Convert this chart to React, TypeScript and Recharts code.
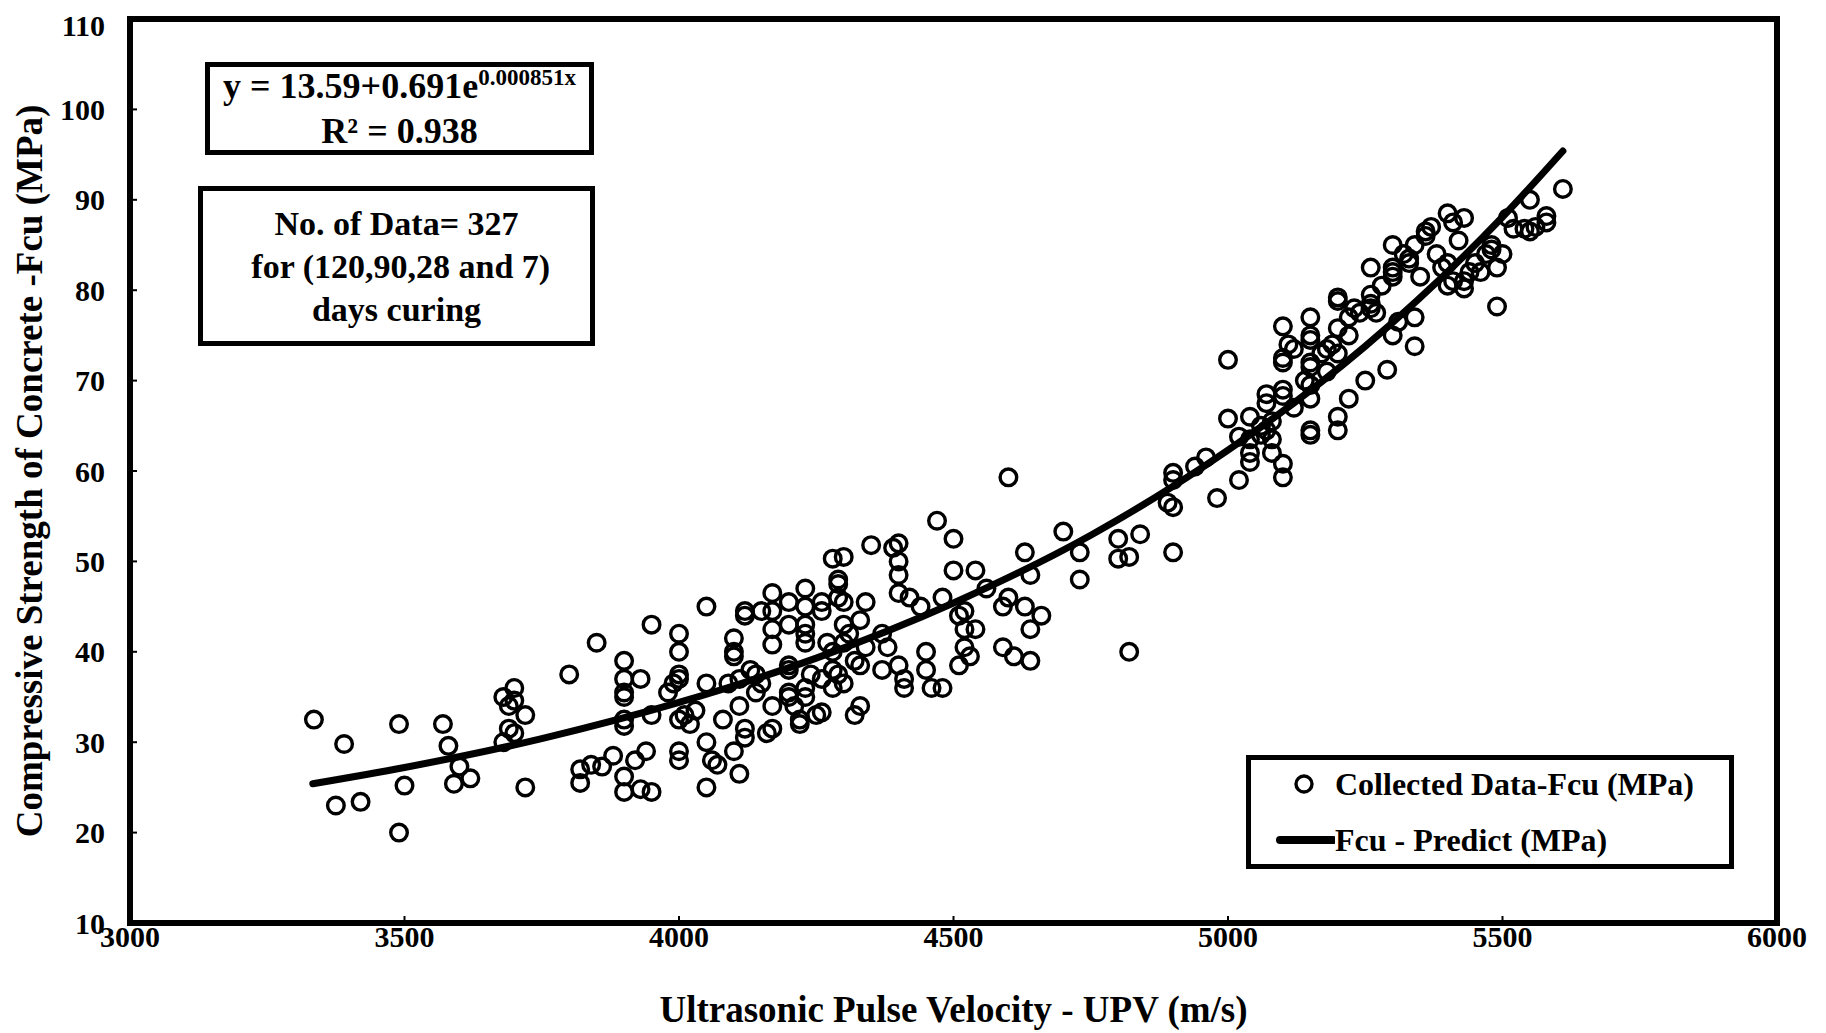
import { ComposedChart, Scatter, Line, XAxis, YAxis, ReferenceArea, Legend } from "recharts";

// UPV (m/s), Fcu (MPa) pairs
const collected: [number, number][] = [
  [3335, 32.5], [3375, 23], [3390, 29.8], [3420, 23.4], [3490, 20], [3490, 32], [3500, 25.2],
  [3570, 32], [3580, 29.6], [3590, 25.4], [3600, 27.3], [3620, 26], [3680, 35], [3680, 30],
  [3690, 34], [3690, 31.5], [3700, 36], [3700, 34.6], [3700, 31], [3720, 33], [3720, 25],
  [3800, 37.5], [3820, 27], [3820, 25.5], [3840, 27.5], [3850, 41], [3860, 27.3], [3880, 28.5],
  [3900, 39], [3900, 37], [3900, 35.5], [3900, 35], [3900, 32.5], [3900, 31.8], [3900, 26.2],
  [3900, 24.5], [3920, 28], [3930, 24.8], [3930, 37], [3940, 29], [3950, 24.5], [3950, 43],
  [3950, 33], [3980, 35.5], [3990, 36.5], [4000, 42], [4000, 40], [4000, 37.5], [4000, 37],
  [4000, 32.5], [4000, 29], [4000, 28], [4010, 33], [4020, 32], [4030, 33.5], [4050, 45],
  [4050, 36.5], [4050, 30], [4060, 28], [4050, 25], [4070, 27.5], [4080, 32.5], [4090, 36.5],
  [4100, 40], [4100, 39.5], [4100, 41.5], [4100, 29], [4110, 37], [4110, 34], [4110, 26.5],
  [4120, 44.5], [4120, 44], [4120, 31.5], [4120, 30.5], [4130, 38], [4140, 37.5], [4140, 35.5],
  [4150, 44.5], [4150, 36.5], [4160, 31], [4170, 46.5], [4170, 44.5], [4170, 42.5], [4170, 40.8],
  [4170, 34], [4170, 31.5], [4200, 45.5], [4200, 43], [4200, 38.5], [4200, 38], [4200, 35.5],
  [4200, 35], [4210, 34], [4220, 32.5], [4220, 32], [4230, 47], [4230, 45], [4230, 43],
  [4230, 42], [4230, 41], [4230, 36], [4230, 35], [4240, 37.5], [4250, 33], [4260, 45.5],
  [4260, 44.5], [4260, 37], [4260, 33.3], [4270, 41], [4280, 50.3], [4280, 40], [4280, 38],
  [4280, 36], [4290, 48], [4290, 47.5], [4290, 46], [4290, 37.5], [4300, 50.5], [4300, 45.5],
  [4300, 43], [4300, 41], [4300, 36.5], [4310, 42], [4320, 33], [4320, 39], [4330, 43.5],
  [4330, 38.5], [4330, 34], [4340, 45.5], [4340, 40.5], [4350, 51.8], [4370, 38], [4370, 42],
  [4380, 40.5], [4390, 51.5], [4400, 52], [4400, 50], [4400, 48.5], [4400, 46.5], [4400, 38.5],
  [4410, 37], [4410, 36], [4420, 46], [4440, 45], [4450, 40], [4450, 38], [4460, 36],
  [4470, 54.5], [4480, 36], [4480, 46], [4500, 52.5], [4500, 49], [4510, 44], [4510, 38.5],
  [4520, 44.5], [4520, 40.5], [4520, 42.5], [4530, 39.5], [4540, 49], [4540, 42.5], [4560, 47],
  [4590, 45], [4590, 40.5], [4600, 59.3], [4600, 46], [4610, 39.5], [4630, 51], [4630, 45],
  [4640, 48.5], [4640, 42.5], [4640, 39], [4660, 44], [4700, 53.3], [4730, 51], [4730, 48],
  [4800, 52.5], [4800, 50.3], [4820, 50.5], [4820, 40], [4840, 53], [4890, 56.5], [4900, 59.8],
  [4900, 59], [4900, 56], [4900, 51], [4940, 60.5], [4960, 61.5], [4980, 57], [5000, 72.3],
  [5000, 65.8], [5020, 63.8], [5020, 59], [5040, 63.5], [5040, 66], [5040, 62], [5040, 61],
  [5060, 65], [5060, 64], [5070, 68.5], [5070, 67.5], [5070, 64.5], [5080, 63.5], [5080, 62],
  [5080, 65.5], [5100, 76], [5100, 72.5], [5100, 72], [5100, 69], [5100, 68.3], [5100, 60.8],
  [5100, 59.3], [5110, 74], [5120, 73.5], [5120, 67], [5140, 70], [5150, 77], [5150, 75],
  [5150, 74.5], [5150, 72], [5150, 71.5], [5150, 69.5], [5150, 68], [5150, 64.5], [5150, 64],
  [5170, 73], [5180, 73.5], [5180, 71], [5190, 74], [5200, 79.2], [5200, 78.8], [5200, 75.8],
  [5200, 73], [5200, 66], [5200, 64.5], [5220, 77], [5220, 75], [5220, 68], [5230, 78],
  [5240, 77.5], [5250, 70], [5260, 82.5], [5260, 79.5], [5260, 78.5], [5260, 78], [5270, 77.5],
  [5280, 80.5], [5290, 71.2], [5300, 85], [5300, 82.5], [5300, 82], [5300, 81.5], [5300, 75],
  [5310, 76.5], [5320, 84], [5330, 83.5], [5330, 83], [5340, 85], [5340, 77], [5340, 73.8],
  [5350, 81.5], [5360, 86.5], [5360, 86], [5370, 87], [5380, 84], [5390, 82.5], [5400, 88.5],
  [5400, 83], [5400, 80.5], [5410, 81], [5410, 87.5], [5420, 85.5], [5430, 88], [5430, 80.2],
  [5430, 81], [5440, 82], [5450, 83], [5460, 82], [5470, 84], [5480, 85], [5480, 84.5],
  [5490, 82.5], [5490, 78.2], [5500, 84], [5510, 88], [5520, 86.8], [5540, 86.8], [5550, 90],
  [5550, 86.5], [5560, 87], [5580, 88.2], [5580, 87.5], [5610, 91.2],
];

// fitted curve
const curveUpv = [3333, 3500, 3750, 4000, 4250, 4500, 4750, 5000, 5250, 5500, 5610];
const curveFcu = [25.4, 27.2, 30.4, 34.4, 39.3, 45.4, 52.9, 62.3, 73.8, 88.1, 95.4];

const xTicks = [3000, 3500, 4000, 4500, 5000, 5500, 6000];
const yTicks = [10, 20, 30, 40, 50, 60, 70, 80, 90, 100, 110];

const points = collected.map(([x, y]) => ({ x, y }));
const curve = curveUpv.map((x, i) => ({ x, y: curveFcu[i] }));

const font = '"Liberation Serif", "Times New Roman", serif';
const tickStyle = { fill: "#000", fontFamily: font, fontWeight: 700, fontSize: 30 };

function Ring(props: any) {
  const { cx, cy } = props;
  if (cx == null || cy == null) return null;
  return <circle cx={cx} cy={cy} r={8.3} fill="none" stroke="#000" strokeWidth={3.4} />;
}

function LegendBox() {
  return (
    <div
      style={{
        boxSizing: "border-box",
        width: 488,
        height: 114,
        border: "5px solid #000",
        background: "#fff",
        fontFamily: font,
        fontWeight: 700,
        fontSize: 32,
        color: "#000",
        position: "relative",
      }}
    >
      <div style={{ position: "absolute", left: 0, top: 2, height: 44, display: "flex", alignItems: "center" }}>
        <svg width={84} height={44}>
          <circle cx={53} cy={22} r={8} fill="none" stroke="#000" strokeWidth={3.4} />
        </svg>
        <span>Collected Data-Fcu (MPa)</span>
      </div>
      <div style={{ position: "absolute", left: 0, top: 58, height: 44, display: "flex", alignItems: "center" }}>
        <svg width={84} height={44}>
          <line x1={29} y1={22} x2={82} y2={22} stroke="#000" strokeWidth={8} strokeLinecap="round" />
        </svg>
        <span>Fcu - Predict (MPa)</span>
      </div>
    </div>
  );
}

const boxStyle = {
  position: "absolute" as const,
  boxSizing: "border-box" as const,
  border: "5px solid #000",
  background: "#fff",
  fontFamily: font,
  fontWeight: 700,
  color: "#000",
  display: "flex",
  flexDirection: "column" as const,
  alignItems: "center",
  justifyContent: "center",
  whiteSpace: "nowrap" as const,
};

export default function App() {
  return (
    <div style={{ position: "relative", width: 1810, height: 1025 }}>
      <ComposedChart width={1810} height={1025} margin={{ top: 11, right: 41, bottom: 10, left: 0 }}>
        <XAxis
          type="number"
          dataKey="x"
          domain={[3000, 6000]}
          ticks={xTicks}
          height={100}
          axisLine={false}
          tickSize={-7}
          tickMargin={10}
          tickLine={{ stroke: "#000", strokeWidth: 2 }}
          tick={tickStyle}
          label={{
            value: "Ultrasonic Pulse Velocity - UPV (m/s)",
            position: "insideBottom",
            offset: 1,
            style: { fill: "#000", fontFamily: font, fontWeight: 700, fontSize: 37 },
          }}
        />
        <YAxis
          type="number"
          dataKey="y"
          domain={[10, 110]}
          ticks={yTicks}
          width={122}
          axisLine={false}
          tickSize={-7}
          tickMargin={32}
          tickLine={{ stroke: "#000", strokeWidth: 2 }}
          tick={tickStyle}
          label={{
            value: "Compressive Strength of Concrete -Fcu (MPa)",
            angle: -90,
            position: "insideLeft",
            offset: 21,
            style: { textAnchor: "middle", fill: "#000", fontFamily: font, fontWeight: 700, fontSize: 37 },
          }}
        />
        <ReferenceArea x1={3000} x2={6000} y1={10} y2={110} fill="none" stroke="#000" strokeWidth={6} ifOverflow="visible" />
        <Line
          data={curve}
          dataKey="y"
          type="monotone"
          stroke="#000"
          strokeWidth={7}
          strokeLinecap="round"
          dot={false}
          activeDot={false}
          isAnimationActive={false}
        />
        <Scatter data={points} dataKey="y" shape={Ring} isAnimationActive={false} />
        <Legend
          layout="vertical"
          align="center"
          verticalAlign="middle"
          content={() => <LegendBox />}
          wrapperStyle={{ left: 1238, top: 747, right: "auto", bottom: "auto", width: 488, height: 114 }}
        />
      </ComposedChart>

      <div style={{ ...boxStyle, left: 197, top: 54, width: 389, height: 93, fontSize: 36, lineHeight: "40px" }}>
        <div>
          y = 13.59+0.691e
          <span style={{ fontSize: 23, position: "relative", top: -13 }}>0.000851x</span>
        </div>
        <div>R² = 0.938</div>
      </div>

      <div style={{ ...boxStyle, left: 190, top: 178, width: 397, height: 160, fontSize: 34, lineHeight: "43px" }}>
        <div>No. of Data= 327</div>
        <div>&nbsp;for (120,90,28 and 7)</div>
        <div>days curing</div>
      </div>
    </div>
  );
}
